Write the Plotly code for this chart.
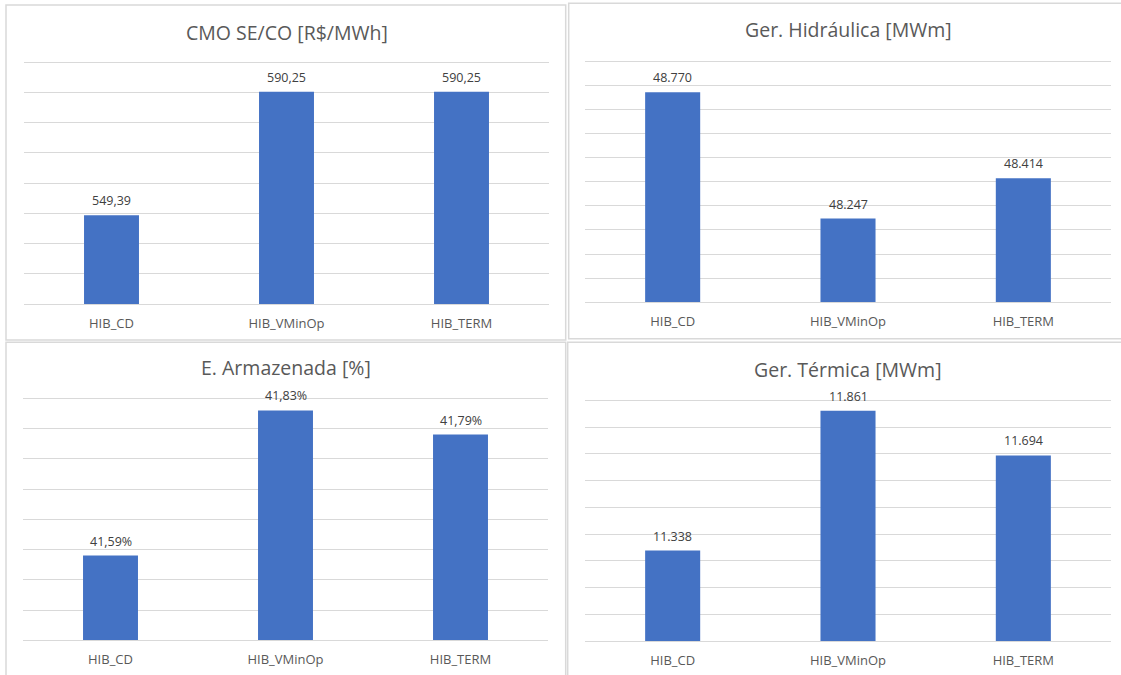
import plotly.graph_objects as go

# Scenario names shared by the four panels
categories = ["HIB_CD", "HIB_VMinOp", "HIB_TERM"]

# Panel values
cmo_seco = [549.39, 590.25, 590.25]          # R$/MWh
ger_hidraulica = [48770, 48247, 48414]       # MWm
e_armazenada = [41.59, 41.83, 41.79]         # %
ger_termica = [11338, 11861, 11694]          # MWm

titles = ["CMO SE/CO [R$/MWh]", "Ger. Hidráulica [MWm]",
          "E. Armazenada [%]", "Ger. Térmica [MWm]"]

W, H = 1121, 675
BAR = "#4472C4"
GRID = "#D9D9D9"
TXT = "#595959"
FONT = "Open Sans"


def br_number(v, dec, suffix=""):
    s = f"{v:,.{dec}f}"
    s = s.replace(",", "#").replace(".", ",").replace("#", ".")
    return s + suffix


def px_x(x):
    return x / W


def px_y(y):
    return 1 - y / H


panels = [
    dict(values=cmo_seco, labels=[br_number(v, 2) for v in cmo_seco],
         yrange=(520, 600), dtick=10, box=(24, 549, 62.3, 304),
         title_y=32),
    dict(values=ger_hidraulica, labels=[br_number(v, 0) for v in ger_hidraulica],
         yrange=(47900, 48900), dtick=100, box=(585, 1111, 61, 302.3),
         title_y=30),
    dict(values=e_armazenada, labels=[br_number(v, 2, "%") for v in e_armazenada],
         yrange=(41.45, 41.85), dtick=0.05, box=(23, 548, 398.3, 640.3),
         title_y=367),
    dict(values=ger_termica, labels=[br_number(v, 0) for v in ger_termica],
         yrange=(11000, 11900), dtick=100, box=(585, 1111, 400.3, 641),
         title_y=369),
]

fig = go.Figure()
layout = dict(
    width=W, height=H, autosize=False,
    margin=dict(l=0, r=0, t=0, b=0),
    paper_bgcolor="white", plot_bgcolor="white",
    showlegend=False, bargap=0.686,
    font=dict(family=FONT, color=TXT, size=12),
)

annotations = []
PAD = 3  # px of headroom so the top gridline is drawn
for i, p in enumerate(panels, start=1):
    xa = "x" if i == 1 else f"x{i}"
    ya = "y" if i == 1 else f"y{i}"
    fig.add_trace(go.Bar(
        x=categories, y=p["values"], xaxis=xa, yaxis=ya,
        marker=dict(color=BAR, line=dict(width=0)),
        hoverinfo="skip",
    ))
    x0, x1, ytop, ybot = p["box"]
    lo, hi = p["yrange"]
    ppu = (ybot - ytop) / (hi - lo)
    extra = PAD / ppu
    key = "" if i == 1 else str(i)
    layout[f"xaxis{key}"] = dict(
        domain=[px_x(x0), px_x(x1)], anchor=ya, range=[-0.5, 2.5],
        showline=True, linecolor=GRID, linewidth=1, showgrid=False,
        ticks="", ticklabelstandoff=7,
        tickfont=dict(family=FONT, size=13, color=TXT),
        fixedrange=True,
    )
    layout[f"yaxis{key}"] = dict(
        domain=[px_y(ybot), px_y(ytop - PAD)], anchor=xa,
        range=[lo, hi + extra], tick0=lo, dtick=p["dtick"],
        showgrid=True, gridcolor=GRID, gridwidth=1,
        showticklabels=False, zeroline=False, showline=False, ticks="",
        fixedrange=True,
    )
    annotations.append(dict(
        text=titles[i - 1], xref="paper", yref="paper",
        x=px_x((x0 + x1) / 2), y=px_y(p["title_y"]),
        xanchor="center", yanchor="middle", showarrow=False,
        font=dict(family=FONT, size=19.5, color=TXT),
    ))
    # value labels above each bar
    for c, v, lab in zip(categories, p["values"], p["labels"]):
        annotations.append(dict(
            text=lab, xref=xa, yref=ya, x=c, y=v,
            xanchor="center", yanchor="bottom", yshift=4,
            showarrow=False,
            font=dict(family=FONT, size=12.5, color="#404040"),
        ))

# Chart-area frames
frames = [
    (6, 565.7, 5, 340),
    (568.7, 1130, 3.3, 338.7),
    (6, 565.7, 342.3, 690),
    (567.7, 1130, 342.3, 690),
]
shapes = []
for fx0, fx1, fy0, fy1 in frames:
    shapes.append(dict(
        type="rect", xref="paper", yref="paper",
        x0=px_x(fx0), x1=px_x(fx1), y0=px_y(fy1), y1=px_y(fy0),
        line=dict(color=GRID, width=1.5), fillcolor="rgba(0,0,0,0)",
        layer="below",
    ))

layout["annotations"] = annotations
layout["shapes"] = shapes
fig.update_layout(**layout)

fig.write_html("out.html", config={"displayModeBar": False})
